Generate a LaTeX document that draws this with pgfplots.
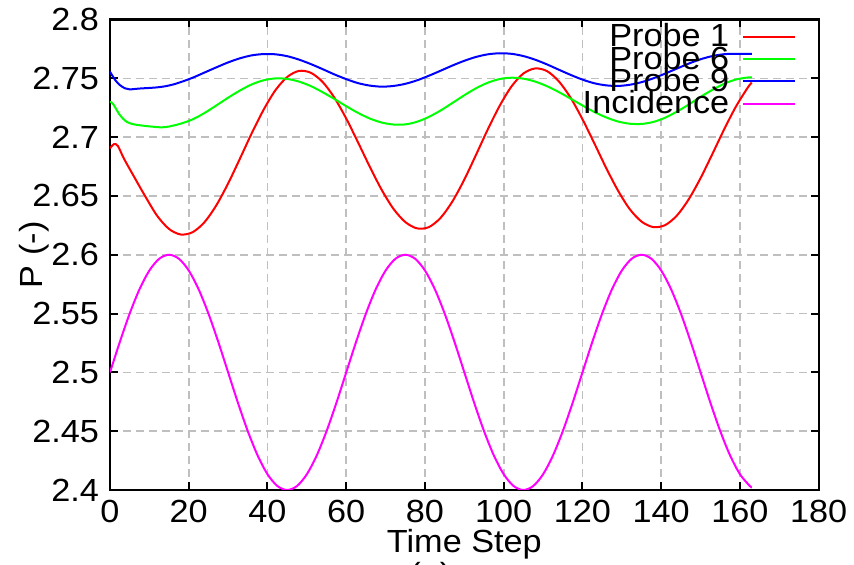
\documentclass[border=0pt]{standalone}
\usepackage{fontspec}
\setmainfont{Liberation Sans}[FakeStretch=1.07]
\usepackage{pgfplots}
\usepackage{pgfplotstable}
\pgfplotsset{compat=1.18}
\newcommand\chfont{\fontsize{16}{19}\selectfont}
\definecolor{pmag}{RGB}{255,0,255}
\definecolor{pgreen}{RGB}{0,255,0}
\definecolor{pred}{RGB}{255,0,0}
\definecolor{pblue}{RGB}{0,0,255}

\pgfplotstableread{
t v
0 2.6905
1 2.6940
2 2.6925
3.5 2.6820
6 2.6670
9 2.6494
12 2.6330
15 2.6219
18 2.6172
21 2.6192
24 2.6277
27 2.6420
30 2.6606
33 2.6817
36 2.7033
39 2.7232
42 2.7398
45 2.7511
48 2.7563
51 2.7547
54 2.7469
57 2.7335
60 2.7158
63 2.6955
66 2.6747
69 2.6552
72 2.6390
75 2.6278
78 2.6224
81 2.6235
84 2.6315
87 2.6455
90 2.6640
93 2.6852
96 2.7069
99 2.7268
102 2.7432
105 2.7541
108 2.7584
111 2.7561
114 2.7474
117 2.7334
120 2.7152
123 2.6948
126 2.6739
129 2.6547
132 2.6388
135 2.6282
138 2.6235
141 2.6252
144 2.6334
147 2.6472
150 2.6652
153 2.6857
156 2.7067
159 2.7261
162 2.7422
163 2.7464
}\probeA

\pgfplotstableread{
t v
0 2.7301
0.8 2.7281
2.5 2.7188
4.2 2.7131
6 2.7109
8.5 2.7097
11 2.7088
13 2.7083
15 2.7090
18 2.7115
21 2.7151
24 2.7205
27 2.7269
30 2.7335
33 2.7396
36 2.7448
39 2.7483
42 2.7499
45 2.7495
48 2.7472
51 2.7434
54 2.7382
57 2.7324
60 2.7263
63 2.7206
66 2.7158
69 2.7124
72 2.7107
75 2.7108
78 2.7131
81 2.7172
84 2.7227
87 2.7291
90 2.7356
93 2.7416
96 2.7463
99 2.7494
102 2.7505
105 2.7497
108 2.7472
111 2.7433
114 2.7383
117 2.7327
120 2.7269
123 2.7214
126 2.7168
129 2.7133
132 2.7114
135 2.7112
138 2.7129
141 2.7165
144 2.7217
147 2.7277
150 2.7342
153 2.7402
156 2.7454
159 2.7490
162 2.7507
163 2.7508
}\probeB

\pgfplotstableread{
t v
0 2.7556
1.3 2.7486
2.5 2.7443
3.8 2.7415
5 2.7406
7.5 2.7413
10 2.7418
12 2.7423
14 2.7432
16 2.7447
18 2.7468
21 2.7505
24 2.7549
27 2.7593
30 2.7635
33 2.7670
36 2.7695
39 2.7706
42 2.7704
45 2.7688
48 2.7659
51 2.7621
54 2.7578
57 2.7533
60 2.7493
63 2.7459
66 2.7438
69 2.7429
72 2.7435
75 2.7453
78 2.7483
81 2.7522
84 2.7565
87 2.7609
90 2.7649
93 2.7682
96 2.7704
99 2.7713
102 2.7708
105 2.7689
108 2.7658
111 2.7618
114 2.7573
117 2.7529
120 2.7489
123 2.7458
126 2.7440
129 2.7435
132 2.7445
135 2.7467
138 2.7500
141 2.7540
144 2.7583
147 2.7625
150 2.7662
153 2.7689
156 2.7705
159 2.7708
163 2.7707
}\probeC

\pgfplotstableread{
t v
0 2.5
2.5 2.5259
5 2.55
7.5 2.5707
10 2.5866
12.5 2.5966
15 2.6
17.5 2.5966
20 2.5866
22.5 2.5707
25 2.55
27.5 2.5259
30 2.5
32.5 2.4741
35 2.45
37.5 2.4293
40 2.4134
42.5 2.4034
45 2.4
47.5 2.4034
50 2.4134
52.5 2.4293
55 2.45
57.5 2.4741
60 2.5
62.5 2.5259
65 2.55
67.5 2.5707
70 2.5866
72.5 2.5966
75 2.6
77.5 2.5966
80 2.5866
82.5 2.5707
85 2.55
87.5 2.5259
90 2.5
92.5 2.4741
95 2.45
97.5 2.4293
100 2.4134
102.5 2.4034
105 2.4
107.5 2.4034
110 2.4134
112.5 2.4293
115 2.45
117.5 2.4741
120 2.5
122.5 2.5259
125 2.55
127.5 2.5707
130 2.5866
132.5 2.5966
135 2.6
137.5 2.5966
140 2.5866
142.5 2.5707
145 2.55
147.5 2.5259
150 2.5
152.5 2.4741
155 2.45
157.5 2.4293
160 2.4134
162.5 2.4034
163 2.4022
}\incid

\begin{document}
\begin{tikzpicture}
\begin{axis}[name=ax, scale only axis, width=354.35pt, height=235.25pt,
  xmin=0, xmax=180, ymin=2.4, ymax=2.8,
  xtick={0,20,40,60,80,100,120,140,160,180},
  ytick={2.4,2.45,2.5,2.55,2.6,2.65,2.7,2.75,2.8},
  grid=major,
  major grid style={dash pattern=on 4pt off 2.5pt, black!25, line width=0.8pt},
  axis line style={line width=1.1pt},
  tick align=inside, major tick length=4pt, tick style={black, line width=1pt},
  /pgf/number format/assume math mode=true,
  tick label style={font=\chfont},
  xticklabel style={anchor=base, yshift=-16.5pt, inner sep=0pt},
  yticklabel style={anchor=east, xshift=-5.35pt, inner sep=0pt},
  xlabel={Time Step}, ylabel={P (-)},
  every axis x label/.style={at={([yshift=-31pt]axis description cs:0.5,0)}, anchor=base, font=\chfont},
  every axis y label/.style={at={([xshift=-33.5pt]axis description cs:0,0.5)}, rotate=90, anchor=base, font=\chfont},
  legend style={at={(rel axis cs:1,1)}, anchor=north east, xshift=-11pt, yshift=-1.9pt,
    draw=none, fill=none, font=\chfont, inner sep=0pt, row sep=-1.95pt, column sep=6.5pt,
    nodes={inner sep=0pt}},
  legend cell align=right, legend plot pos=right,
  legend image code/.code={\draw[#1] (0pt,0pt) -- (26pt,0pt);},
]
\addplot[pred, line width=1pt, smooth] table[x=t, y=v] {\probeA};
\addlegendentry{Probe 1}
\addplot[pgreen, line width=1pt, smooth] table[x=t, y=v] {\probeB};
\addlegendentry{Probe 6}
\addplot[pblue, line width=1pt, smooth] table[x=t, y=v] {\probeC};
\addlegendentry{Probe 9}
\addplot[pmag, line width=1pt, smooth] table[x=t, y=v] {\incid};
\addlegendentry{Incidence}
\end{axis}
\node[font=\chfont, anchor=base] at ([xshift=-17pt, yshift=-48pt]ax.south) {(a)};
\pgfresetboundingbox
\useasboundingbox ([xshift=-55pt,yshift=-37.5pt]ax.south west) rectangle ([xshift=17.65pt,yshift=9.75pt]ax.north east);
\end{tikzpicture}
\end{document}
